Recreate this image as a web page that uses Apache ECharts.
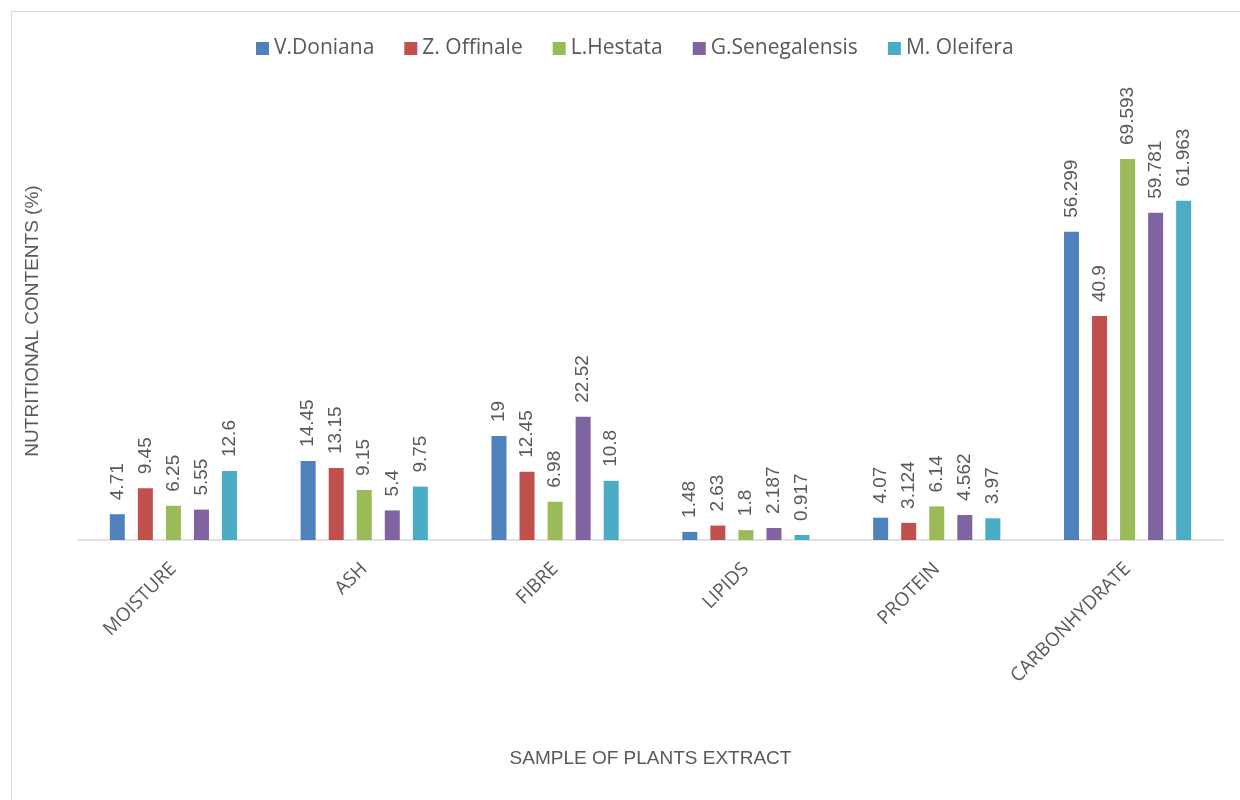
<!DOCTYPE html>
<html>
<head>
<meta charset="utf-8">
<script src="https://cdn.jsdelivr.net/npm/echarts@6/dist/echarts.min.js"></script>
<style>
  html, body { margin: 0; padding: 0; background: #fff; }
  #chart { width: 1240px; height: 800px; }
</style>
</head>
<body>
<div id="chart"></div>
<script>
// Nutritional composition of five plant extracts (%)
const categories = ['MOISTURE', 'ASH', 'FIBRE', 'LIPIDS', 'PROTEIN', 'CARBONHYDRATE'];
const seriesNames = ['V.Doniana', 'Z. Offinale', 'L.Hestata', 'G.Senegalensis', 'M. Oleifera'];
const vDoniana = [4.71, 14.45, 19, 1.48, 4.07, 56.299];
const zOffinale = [9.45, 13.15, 12.45, 2.63, 3.124, 40.9];
const lHestata = [6.25, 9.15, 6.98, 1.8, 6.14, 69.593];
const gSenegalensis = [5.55, 5.4, 22.52, 2.187, 4.562, 59.781];
const mOleifera = [12.6, 9.75, 10.8, 0.917, 3.97, 61.963];
const seriesValues = [vDoniana, zOffinale, lHestata, gSenegalensis, mOleifera];
const colors = ['#4F81BD', '#C0504D', '#9BBB59', '#8064A2', '#4BACC6'];

const FONT = 'Liberation Sans';
const WIDE_FONT = 'Open Sans';
const TEXT = '#595959';

const chart = echarts.init(document.getElementById('chart'));
chart.setOption({
  animation: false,
  color: colors,
  textStyle: { fontFamily: FONT, color: TEXT },
  graphic: [{
    type: 'rect',
    shape: { x: 11.5, y: 11.5, width: 1240, height: 800 },
    style: { fill: 'none', stroke: '#D9D9D9', lineWidth: 1 },
    silent: true
  }],
  legend: {
    top: 33,
    left: 251,
    itemWidth: 13,
    itemHeight: 13,
    itemGap: 30,
    icon: 'rect',
    textStyle: { fontFamily: WIDE_FONT, fontSize: 21, color: TEXT },
    data: seriesNames
  },
  grid: { left: 78, right: 17, top: 102, bottom: 260, containLabel: false },
  xAxis: {
    type: 'category',
    data: categories,
    axisTick: { show: false },
    axisLine: { lineStyle: { color: '#D9D9D9', width: 1.5 } },
    axisLabel: {
      rotate: 45,
      margin: 26,
      fontFamily: WIDE_FONT,
      fontSize: 19,
      color: TEXT
    },
    name: 'SAMPLE OF PLANTS EXTRACT',
    nameLocation: 'middle',
    nameGap: 209,
    nameTextStyle: { fontFamily: FONT, fontSize: 19, color: TEXT }
  },
  yAxis: {
    type: 'value',
    min: 0,
    max: 80,
    interval: 10,
    axisLabel: { show: false },
    axisLine: { show: false },
    axisTick: { show: false },
    splitLine: { show: false },
    name: 'NUTRITIONAL CONTENTS (%)',
    nameLocation: 'middle',
    nameRotate: 90,
    nameGap: 36,
    nameTextStyle: { fontFamily: FONT, fontSize: 19, color: TEXT }
  },
  series: seriesNames.map((name, i) => ({
    name,
    type: 'bar',
    data: seriesValues[i],
    barWidth: 15,
    barGap: '87%',
    label: {
      show: true,
      position: 'top',
      rotate: 90,
      align: 'left',
      verticalAlign: 'middle',
      distance: 14,
      fontFamily: FONT,
      fontSize: 19,
      color: TEXT
    }
  }))
});
</script>
</body>
</html>
